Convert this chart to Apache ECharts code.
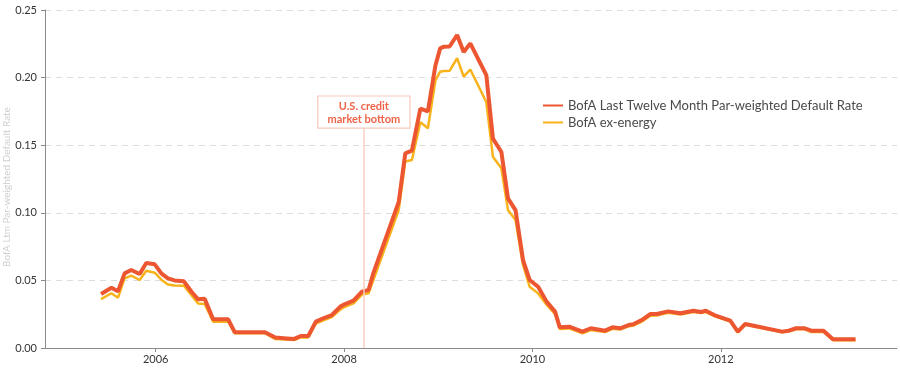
<!DOCTYPE html>
<html>
<head>
<meta charset="utf-8">
<script src="https://cdn.jsdelivr.net/npm/echarts@6/dist/echarts.min.js"></script>
<style>
  html, body { margin: 0; padding: 0; background: #fff; }
  #chart { width: 900px; height: 370px; }
</style>
</head>
<body>
<div id="chart"></div>
<script>
// Dates as decimal years
var dates = [
  2005.42, 2005.53, 2005.60, 2005.67, 2005.74, 2005.83, 2005.90, 2005.99,
  2006.06, 2006.13, 2006.20, 2006.30, 2006.38, 2006.45, 2006.52, 2006.61,
  2006.77, 2006.84, 2007.16, 2007.27, 2007.39, 2007.47, 2007.54, 2007.62,
  2007.70, 2007.78, 2007.87, 2007.96, 2008.01, 2008.10, 2008.19, 2008.26,
  2008.31, 2008.58, 2008.65, 2008.72, 2008.81, 2008.89, 2008.97, 2009.02,
  2009.06, 2009.12, 2009.20, 2009.27, 2009.34, 2009.51, 2009.58, 2009.67,
  2009.74, 2009.82, 2009.90, 2009.97, 2010.06, 2010.15, 2010.24, 2010.29,
  2010.39, 2010.53, 2010.62, 2010.77, 2010.85, 2010.93, 2011.02, 2011.07,
  2011.16, 2011.25, 2011.32, 2011.44, 2011.57, 2011.71, 2011.79, 2011.84,
  2011.93, 2012.10, 2012.18, 2012.26, 2012.65, 2012.72, 2012.80, 2012.89,
  2012.96, 2013.09, 2013.19, 2013.43
];
var bofaLtm = [
  0.0400, 0.0446, 0.0420, 0.0552, 0.0577, 0.0547, 0.0629, 0.0619,
  0.0552, 0.0515, 0.0500, 0.0493, 0.0416, 0.0360, 0.0365, 0.0212,
  0.0212, 0.0116, 0.0116, 0.0077, 0.0071, 0.0067, 0.0089, 0.0089,
  0.0195, 0.0220, 0.0244, 0.0306, 0.0325, 0.0350, 0.0417, 0.0429,
  0.0552, 0.1080, 0.1440, 0.1460, 0.1770, 0.1750, 0.2090, 0.2216,
  0.2229, 0.2230, 0.2315, 0.2190, 0.2253, 0.2019, 0.1550, 0.1450,
  0.1107, 0.1020, 0.0650, 0.0503, 0.0453, 0.0343, 0.0269, 0.0153,
  0.0158, 0.0121, 0.0146, 0.0128, 0.0153, 0.0146, 0.0170, 0.0175,
  0.0207, 0.0251, 0.0251, 0.0271, 0.0257, 0.0276, 0.0266, 0.0276,
  0.0244, 0.0202, 0.0121, 0.0178, 0.0121, 0.0128, 0.0146, 0.0146,
  0.0128, 0.0128, 0.0064, 0.0064
];
var bofaExEnergy = [
  0.0362, 0.0405, 0.0372, 0.0515, 0.0535, 0.0503, 0.0572, 0.0557,
  0.0505, 0.0470, 0.0462, 0.0460, 0.0390, 0.0330, 0.0325, 0.0195,
  0.0195, 0.0109, 0.0109, 0.0066, 0.0062, 0.0059, 0.0078, 0.0078,
  0.0180, 0.0205, 0.0228, 0.0285, 0.0305, 0.0330, 0.0395, 0.0405,
  0.0500, 0.1020, 0.1380, 0.1390, 0.1670, 0.1625, 0.1980, 0.2044,
  0.2048, 0.2050, 0.2143, 0.2007, 0.2060, 0.1820, 0.1415, 0.1330,
  0.1020, 0.0947, 0.0614, 0.0453, 0.0404, 0.0320, 0.0250, 0.0140,
  0.0145, 0.0108, 0.0133, 0.0118, 0.0142, 0.0136, 0.0160, 0.0165,
  0.0195, 0.0238, 0.0240, 0.0260, 0.0248, 0.0266, 0.0258, 0.0266,
  0.0236, 0.0195, 0.0115, 0.0172, 0.0116, 0.0122, 0.0138, 0.0138,
  0.0118, 0.0118, 0.0058, 0.0058
];
var yearTicks = [2006, 2008, 2010, 2012];
var seriesNames = ['BofA Last Twelve Month Par-weighted Default Rate', 'BofA ex-energy'];
var eventDate = 2008.21;
var eventLabel = 'U.S. credit\nmarket bottom';
var eventTop = 0.163;

function pairs(xs, ys) { return xs.map(function (x, i) { return [x, ys[i]]; }); }

var chart = echarts.init(document.getElementById('chart'), null, { renderer: 'canvas' });
var font = 'Lato, "Noto Sans", sans-serif';
chart.setOption({
  animation: false,
  textStyle: { fontFamily: font },
  grid: { left: 45, right: 3, top: 10, bottom: 22, containLabel: false, outerBoundsMode: 'none' },
  legend: {
    orient: 'vertical',
    left: 537,
    top: 94,
    itemWidth: 20,
    itemHeight: 13,
    itemGap: 4,
    itemStyle: { opacity: 0 },
    data: [seriesNames[0], seriesNames[1]],
    textStyle: { fontFamily: font, fontSize: 13, color: '#4a4a4a' }
  },
  xAxis: {
    type: 'value',
    min: 2004.825,
    max: 2013.87,
    axisLine: { show: true, lineStyle: { color: '#8a8a8a', width: 1 } },
    axisTick: { show: true, length: 4, lineStyle: { color: '#8a8a8a' }, customValues: yearTicks },
    axisLabel: {
      customValues: yearTicks,
      formatter: function (v) { return String(Math.round(v)); },
      color: '#333', fontSize: 11, fontFamily: font, margin: 6
    },
    splitLine: { show: false }
  },
  yAxis: {
    type: 'value',
    min: 0,
    max: 0.25,
    interval: 0.05,
    name: 'BofA Ltm Par-weighted Default Rate',
    nameLocation: 'middle',
    nameGap: 33,
    nameMoveOverlap: false,
    nameTextStyle: { color: '#cfcfcf', fontSize: 10, fontFamily: font, padding: [0, 16, 0, 0] },
    axisLine: { show: true, lineStyle: { color: '#8a8a8a', width: 1 } },
    axisTick: { show: true, length: 4, lineStyle: { color: '#8a8a8a' } },
    axisLabel: {
      formatter: function (v) { return v.toFixed(2); },
      color: '#333', fontSize: 11, fontFamily: font, margin: 8
    },
    splitLine: { show: true, lineStyle: { color: '#dcdcdc', type: [6, 5], width: 1 } }
  },
  series: [
    {
      name: seriesNames[1],
      type: 'line',
      data: pairs(dates, bofaExEnergy),
      symbol: 'none',
      z: 2,
      lineStyle: { color: '#F8B31B', width: 2.5 },
      itemStyle: { color: '#F8B31B' }
    },
    {
      name: seriesNames[0],
      type: 'line',
      data: pairs(dates, bofaLtm),
      symbol: 'none',
      z: 3,
      lineStyle: { color: '#EC5631', width: 4 },
      itemStyle: { color: '#EC5631' },
      markLine: {
        silent: true,
        symbol: ['none', 'none'],
        lineStyle: { color: '#F9CFC6', width: 1.5, type: 'solid' },
        label: {
          show: true,
          position: 'end',
          distance: 0,
          formatter: eventLabel,
          color: '#EF6448',
          fontSize: 11,
          fontWeight: 'bold',
          fontFamily: font,
          lineHeight: 13,
          align: 'center',
          backgroundColor: '#fff',
          borderColor: '#F7C7BC',
          borderWidth: 1.2,
          padding: [3, 8, 2, 8],
          width: 75
        },
        data: [[{ coord: [eventDate, 0] }, { coord: [eventDate, eventTop] }]]
      }
    }
  ]
});
</script>
</body>
</html>
